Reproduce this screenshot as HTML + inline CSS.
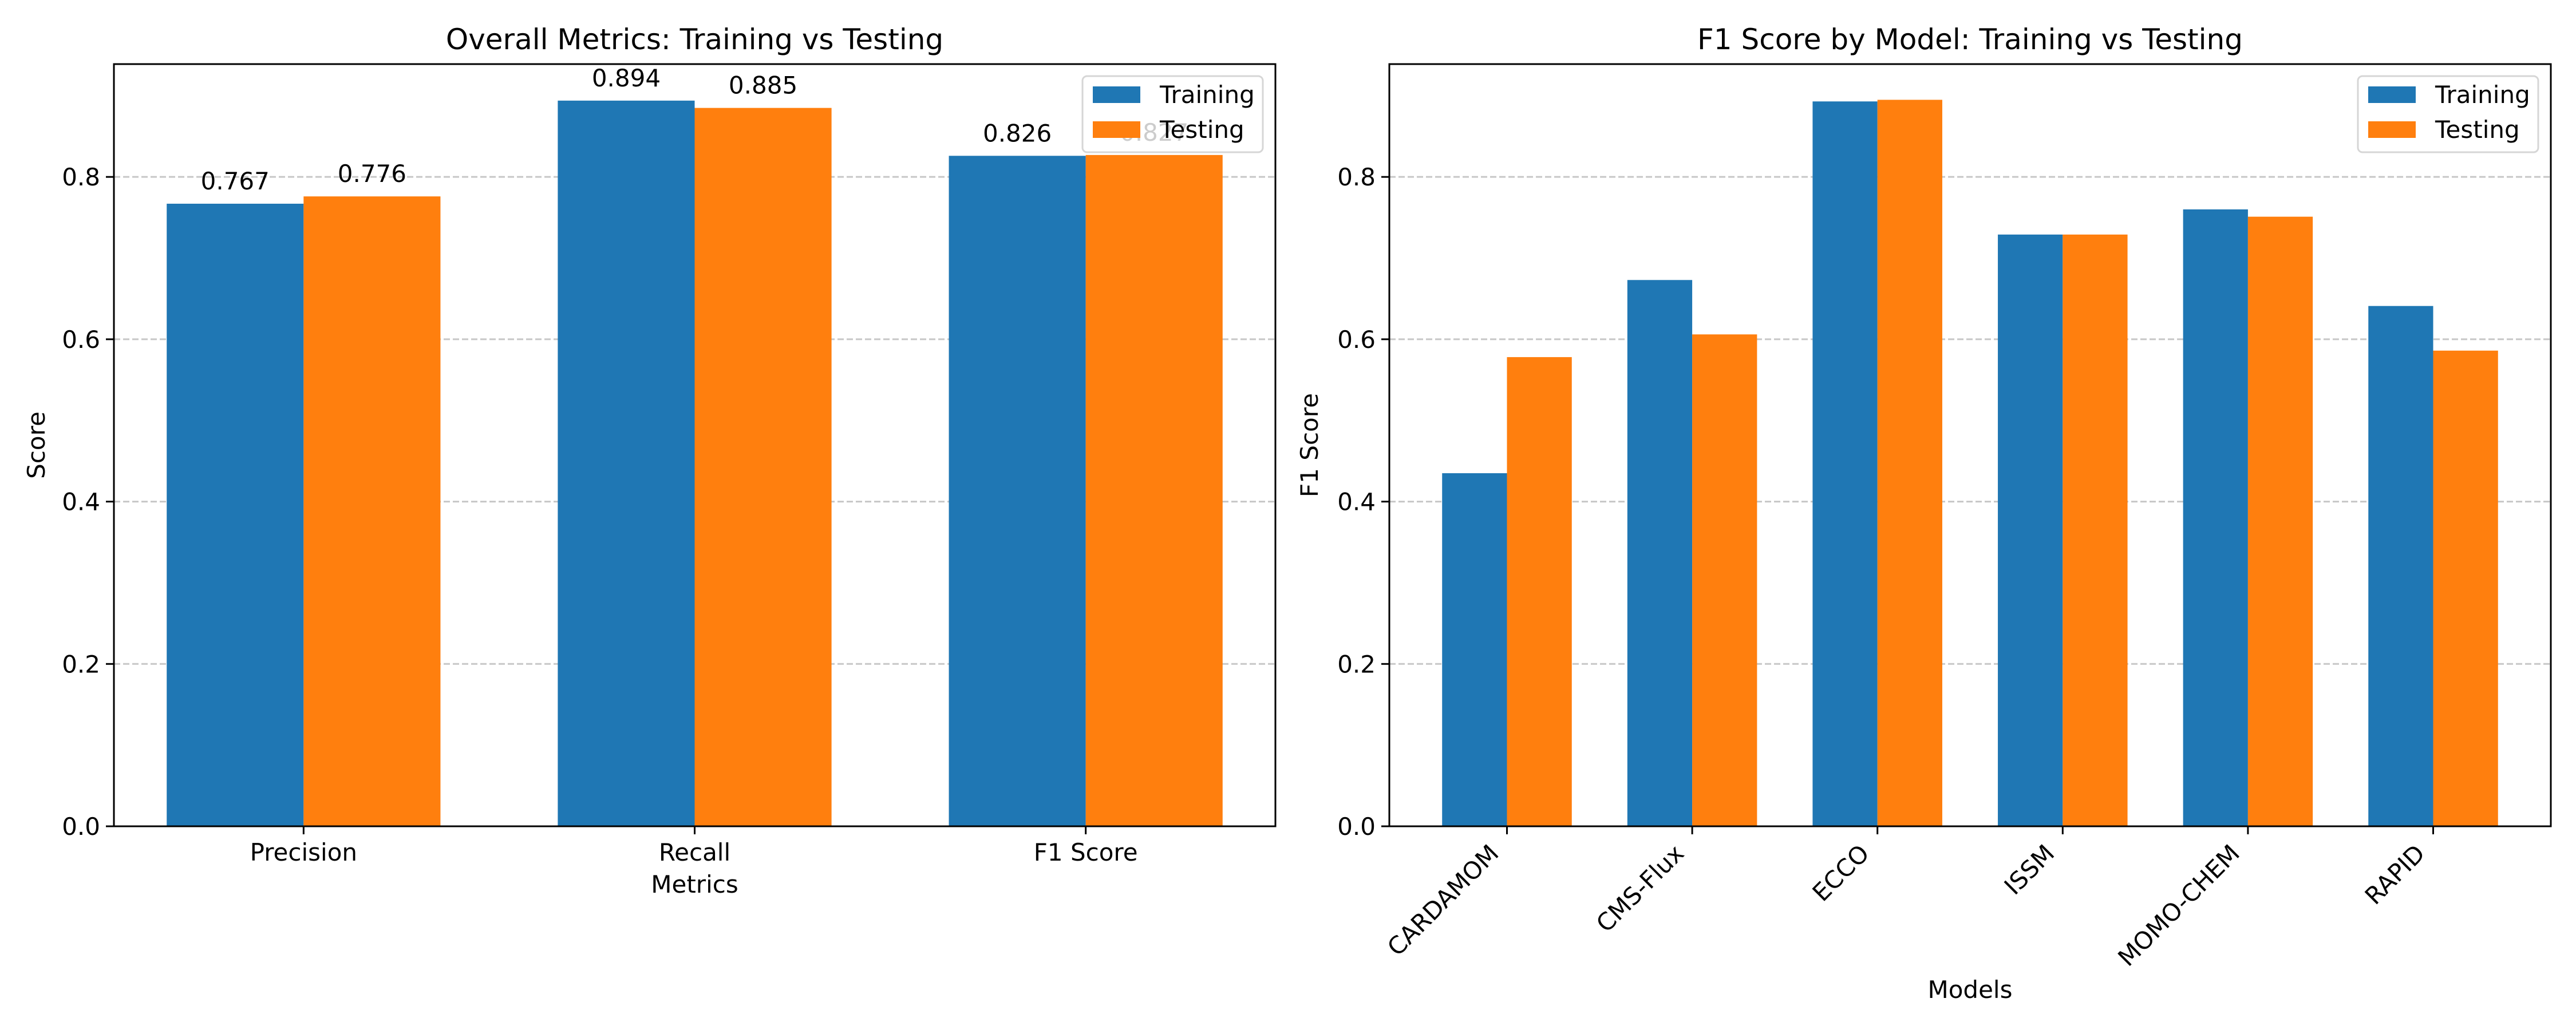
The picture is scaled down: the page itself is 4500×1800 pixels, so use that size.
<!DOCTYPE html>
<html><head><meta charset="utf-8"><style>
html,body{margin:0;padding:0;background:#fff}
svg{display:block;font-family:"DejaVu Sans","Liberation Sans",sans-serif}
</style></head><body>
<svg id="chart" width="4500" height="1800" viewBox="0 0 4500 1800" xmlns="http://www.w3.org/2000/svg"></svg>
<script>
const leftCategories = ["Precision", "Recall", "F1 Score"];
const leftTraining = [0.767, 0.894, 0.826];
const leftTesting = [0.776, 0.885, 0.827];
const rightCategories = ["CARDAMOM", "CMS-Flux", "ECCO", "ISSM", "MOMO-CHEM", "RAPID"];
const rightTraining = [0.435, 0.673, 0.893, 0.729, 0.760, 0.641];
const rightTesting = [0.578, 0.606, 0.895, 0.729, 0.751, 0.586];
const yTicks = [0.0, 0.2, 0.4, 0.6, 0.8];
const yTickLabels = ["0.0", "0.2", "0.4", "0.6", "0.8"];

const NS = "http://www.w3.org/2000/svg";
const svg = document.getElementById("chart");
function mk(tag, attrs, parent, text) {
  const e = document.createElementNS(NS, tag);
  for (const k in attrs) e.setAttribute(k, attrs[k]);
  if (text !== undefined) e.textContent = text;
  (parent || svg).appendChild(e);
  return e;
}
const BLUE = "#1f77b4", ORANGE = "#ff7f0e";
const TOP = 112, BOT = 1444, YMAX = 0.939;

function panel(opt) {
  const g = mk("g", {});
  
  
  const L = opt.left, R = opt.right, n = opt.cats.length, w = 0.35;
  const lo = -w - 0.05 * (n - 1 + 2 * w), hi = n - 1 + w + 0.05 * (n - 1 + 2 * w);
  const xs = v => L + (v - lo) / (hi - lo) * (R - L);
  const ys = v => BOT - v / YMAX * (BOT - TOP);
  yTicks.forEach((t, i) => {
    if (t > 0) {
      const gl = mk("line", {x1: L, x2: R, y1: ys(t), y2: ys(t), stroke: "#b0b0b0", "stroke-width": 3, "stroke-dasharray": "11,5", opacity: 0.7}, g);
      
      
    }
    const tk = mk("line", {x1: L - 14, x2: L, y1: ys(t), y2: ys(t), stroke: "#000", "stroke-width": 3}, g);
    
    
    const tl = mk("text", {x: L - 24, y: ys(t) + 15, "text-anchor": "end", "font-size": 42}, g, yTickLabels[i]);
    
    
  });
  opt.cats.forEach((c, i) => {
    [[opt.train, BLUE, -w, "training"], [opt.test, ORANGE, 0, "testing"]].forEach(([arr, col, off, nm]) => {
      const v = arr[i];
      const b = mk("rect", {x: xs(i + off), y: ys(v), width: xs(i + off + w) - xs(i + off), height: ys(0) - ys(v), fill: col}, g);
      
      
      if (opt.values) {
        const vt = mk("text", {x: xs(i + off + w / 2), y: ys(v) - 25, "text-anchor": "middle", "font-size": 42}, g, v.toFixed(3));
        
        
      }
    });
    const xt = mk("line", {x1: xs(i), x2: xs(i), y1: BOT, y2: BOT + 14, stroke: "#000", "stroke-width": 3}, g);
    
    
    let lab;
    if (opt.rotate) {
      const ax = xs(i) - 12, ay = 1494;
      lab = mk("text", {x: ax, y: ay, "text-anchor": "end", "font-size": 42, transform: `rotate(-45 ${ax} ${ay})`}, g, c);
    } else {
      lab = mk("text", {x: xs(i), y: BOT + 60, "text-anchor": "middle", "font-size": 42}, g, c);
    }
    
    
  });
  const fr = mk("rect", {x: L, y: TOP, width: R - L, height: BOT - TOP, fill: "none", stroke: "#000", "stroke-width": 3}, g);
  
  
  const ti = mk("text", {x: (L + R) / 2, y: 86, "text-anchor": "middle", "font-size": 50}, g, opt.title);
  
  
  const xl = mk("text", {x: (L + R) / 2, y: opt.xlabelY, "text-anchor": "middle", "font-size": 42}, g, opt.xlabel);
  
  
  const yx = opt.left - opt.ylabelOff, yy = (TOP + BOT) / 2;
  const yl = mk("text", {x: yx, y: yy, "text-anchor": "middle", "font-size": 42, transform: `rotate(-90 ${yx} ${yy})`}, g, opt.ylabel);
  
  
  const lx = R - 22 - 315;
  const lg = mk("g", {}, g);
  
  
  mk("rect", {x: lx, y: 133, width: 315, height: 133, rx: 8, fill: "#fff", "fill-opacity": 0.8, stroke: "#d6d6d6", "stroke-width": 3}, lg);
  [["Training", BLUE, 151], ["Testing", ORANGE, 212]].forEach(([t, col, yy2]) => {
    const le = mk("g", {}, lg);
    
    
    mk("rect", {x: lx + 18, y: yy2, width: 83, height: 29, fill: col}, le);
    mk("text", {x: lx + 135, y: yy2 + 29, "font-size": 42}, le, t);
  });
}
panel({name: "overall-metrics-chart", left: 199, right: 2228, cats: leftCategories, train: leftTraining, test: leftTesting, values: true, rotate: false, title: "Overall Metrics: Training vs Testing", xlabel: "Metrics", ylabel: "Score", xlabelY: 1560, ylabelOff: 121});
panel({name: "f1-by-model-chart", left: 2427, right: 4456, cats: rightCategories, train: rightTraining, test: rightTesting, values: false, rotate: true, title: "F1 Score by Model: Training vs Testing", xlabel: "Models", ylabel: "F1 Score", xlabelY: 1744, ylabelOff: 125});
</script>
</body></html>
